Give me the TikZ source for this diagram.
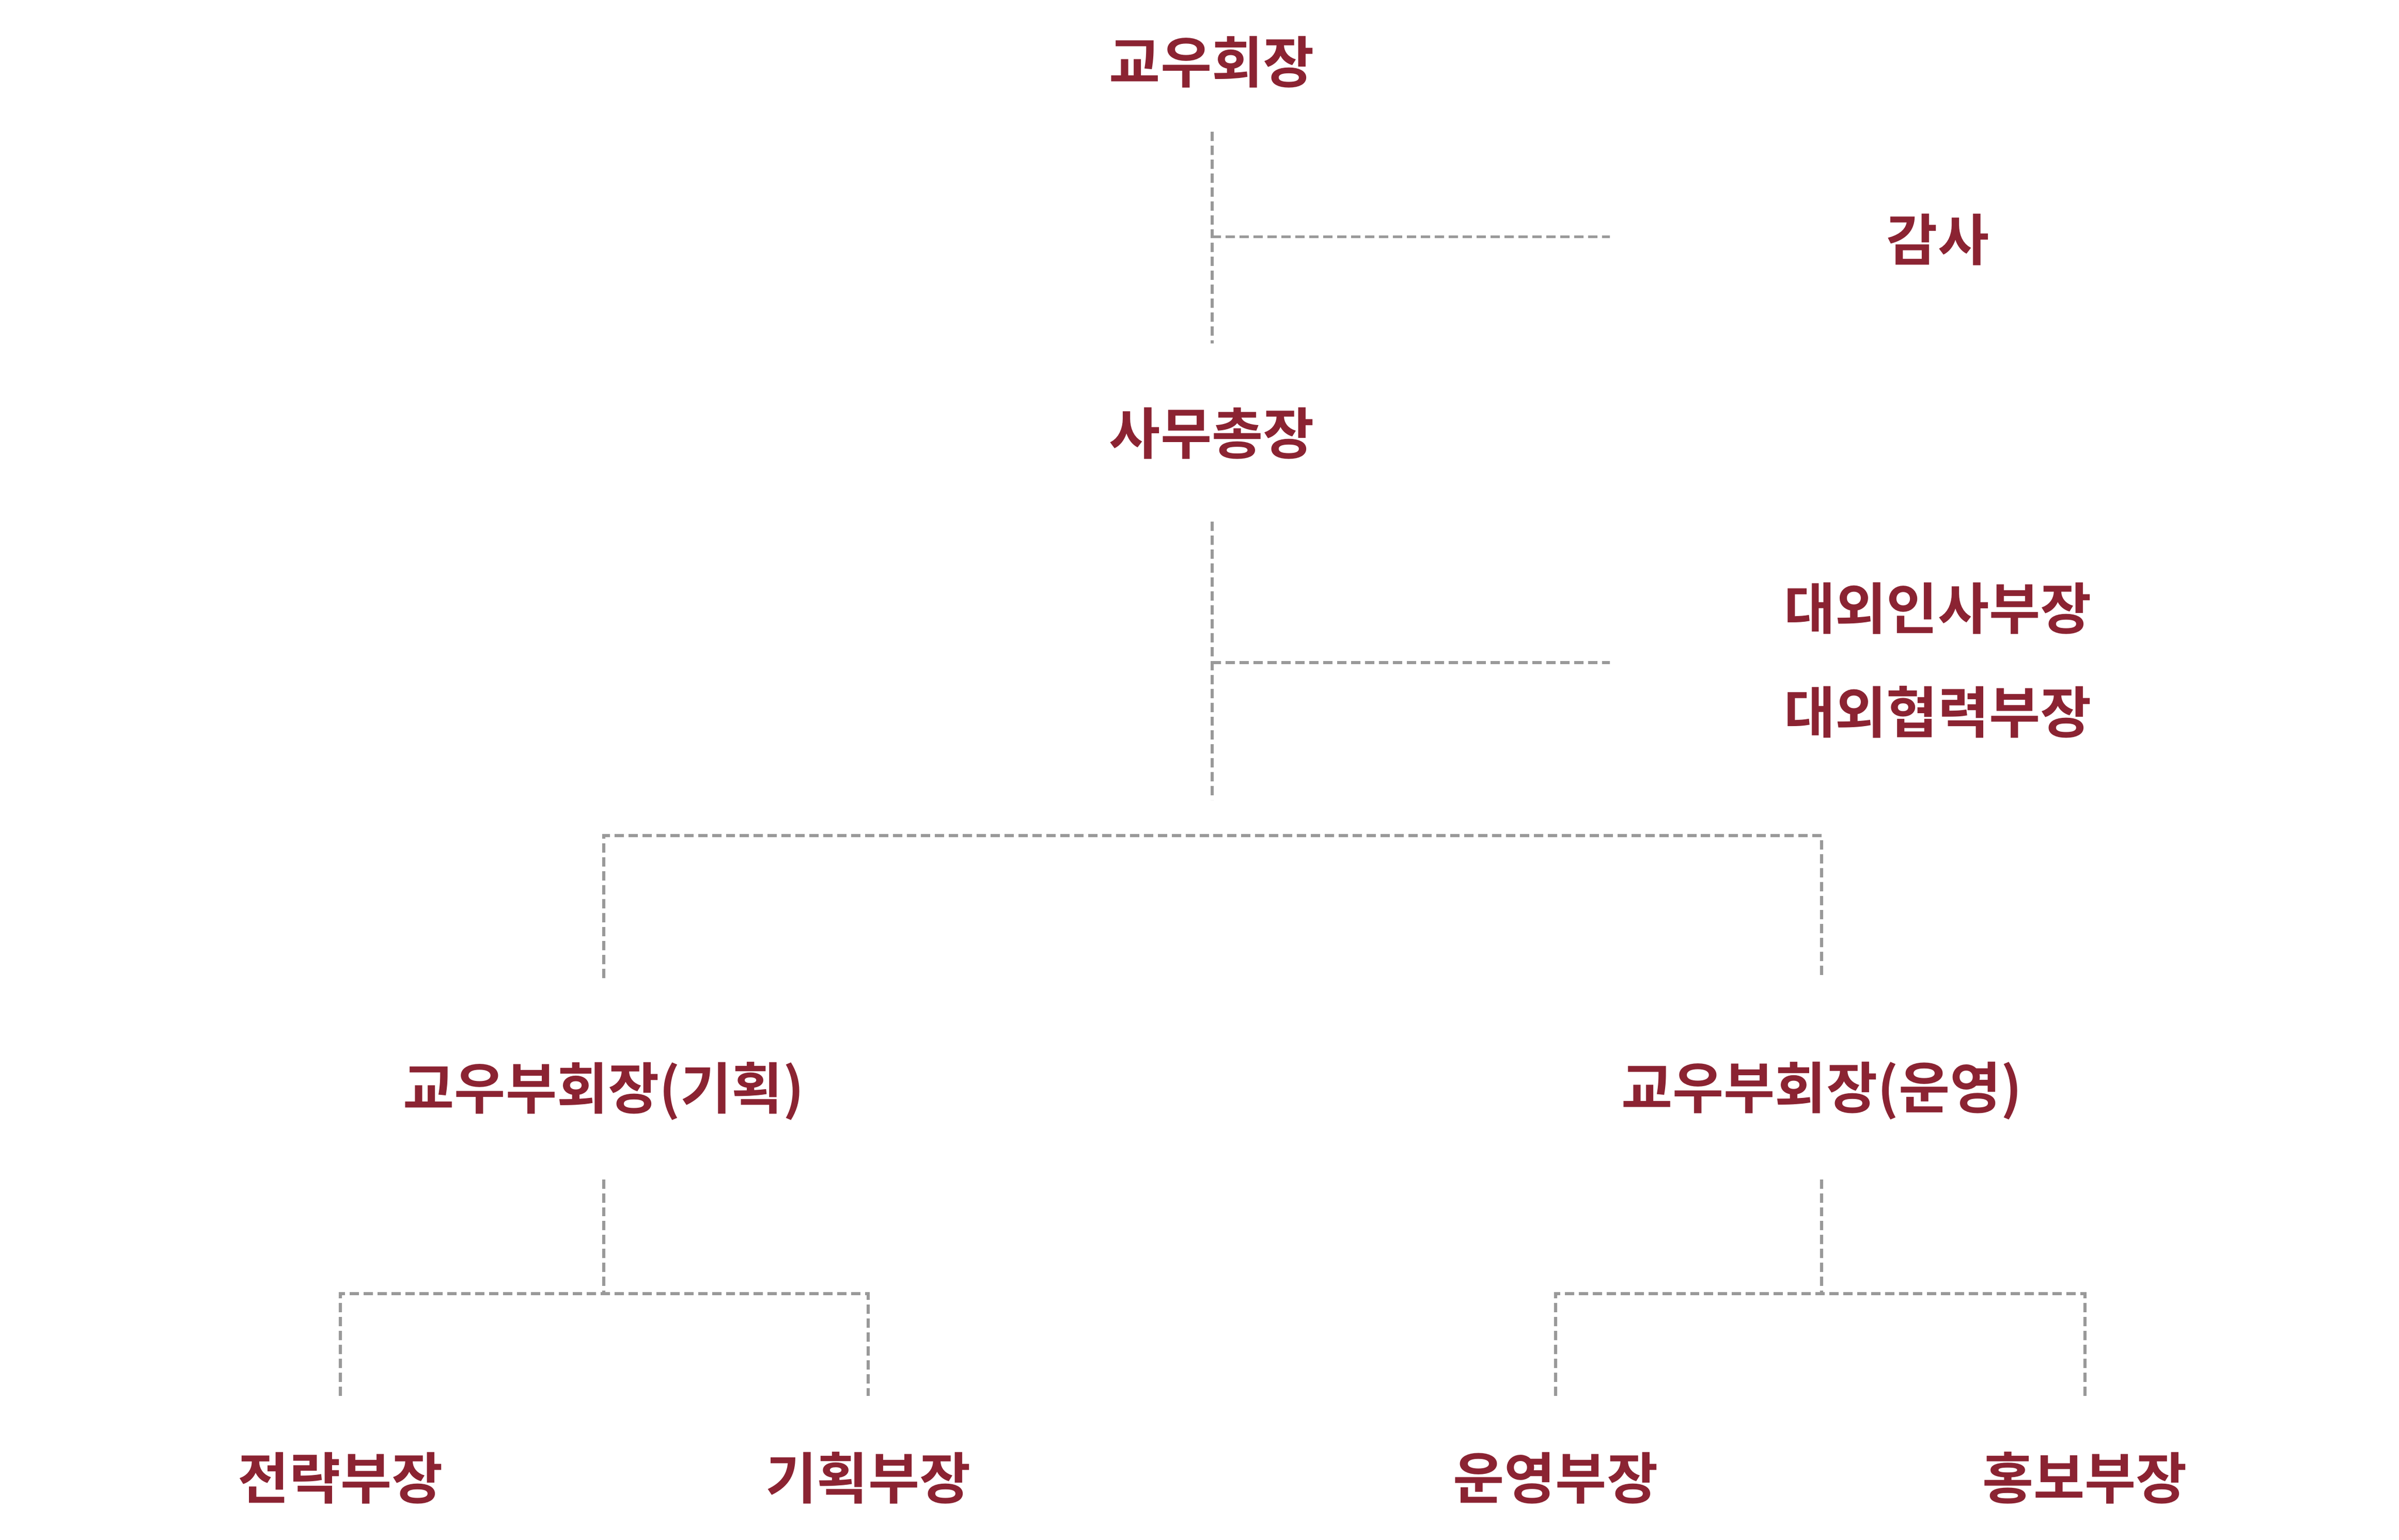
\documentclass[tikz,border=0pt]{standalone}
\usepackage{fontspec}
\newfontfamily\kr{Noto Sans CJK KR Bold}
\definecolor{lab}{HTML}{8B2332}
\definecolor{ln}{HTML}{999999}
\begin{document}
\begin{tikzpicture}[x=1pt,y=-1pt,
  lbl/.style={text=lab,font=\kr\fontsize{36}{40}\selectfont,inner sep=0pt},
  dl/.style={draw=ln,line width=2pt,dash pattern=on 6pt off 3pt}]
\useasboundingbox (0,0) rectangle (1550,995);
\node[lbl] (t) at (783,40) {교우회장};
\node[lbl] (gs) at (1252,155) {감사};
\node[lbl] (sm) at (783,280) {사무총장};
\node[lbl] (d1) at (1252,393) {대외인사부장};
\node[lbl] (d2) at (1252,460) {대외협력부장};
\node[lbl] (vl) at (390,705) {교우부회장(기획)};
\node[lbl] (vr) at (1177,705) {교우부회장(운영)};
\node[lbl] (b1) at (220,955) {전략부장};
\node[lbl] (b2) at (561,955) {기획부장};
\node[lbl] (b3) at (1005,955) {운영부장};
\node[lbl] (b4) at (1347,955) {홍보부장};
\coordinate (a1) at (783,85); \coordinate (a2) at (783,222);
\coordinate (a3) at (783,153); \coordinate (a4) at (1040,153);
\coordinate (c1) at (783,337); \coordinate (c2) at (783,517);
\coordinate (c3) at (783,428); \coordinate (c4) at (1040,428);
\coordinate (e1) at (390,632); \coordinate (e2) at (1177,632);
\coordinate (f1) at (390,762); \coordinate (f2) at (1177,762);
\coordinate (g1) at (220,902); \coordinate (g2) at (561,902);
\coordinate (g3) at (1005,902); \coordinate (g4) at (1347,902);
\draw[dl] (a1) -- (a2); \draw[dl] (a3) -- (a4);
\draw[dl] (c1) -- (c2); \draw[dl] (c3) -- (c4);
\draw[dl] (e1) -- (390,540) -- (1177,540) -- (e2);
\draw[dl] (f1) -- (390,836);
\draw[dl] (g1) -- (220,836) -- (561,836) -- (g2);
\draw[dl] (f2) -- (1177,836);
\draw[dl] (g3) -- (1005,836) -- (1347,836) -- (g4);
\end{tikzpicture}
\end{document}
